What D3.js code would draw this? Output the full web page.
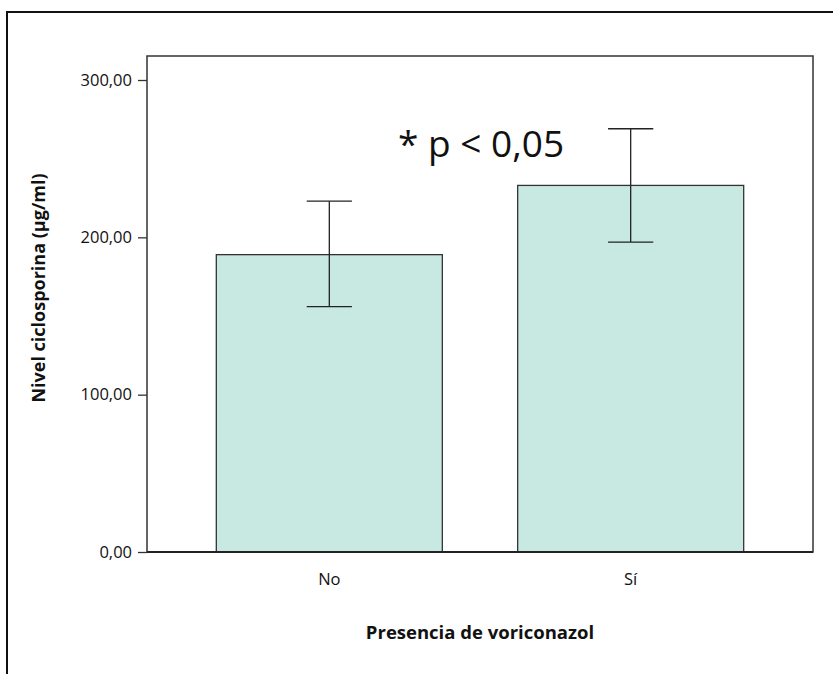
<!DOCTYPE html>
<html>
<head>
<meta charset="utf-8">
<script src="https://cdn.jsdelivr.net/npm/d3@7"></script>
<style>
  body { margin: 0; background: #fff; }
  text { font-family: "Open Sans", "Noto Sans", sans-serif; }
</style>
</head>
<body>
<div id="chart"></div>
<script>
// groups and values
var groups = ["No", "Sí"];
var means = [189, 233];
var errLow = [156, 197];
var errHigh = [223, 269];
var yTicks = [0, 100, 200, 300];

var width = 833, height = 674;
var margin = {top: 56, right: 20, bottom: 122, left: 147};

var svg = d3.select("#chart").append("svg")
    .attr("width", width)
    .attr("height", height);

// outer frame (top and left only)
svg.append("path")
    .attr("d", "M7," + height + " V12 H" + width)
    .attr("fill", "none")
    .attr("stroke", "#111")
    .attr("stroke-width", 2);

var x = d3.scaleBand()
    .domain(groups)
    .range([margin.left, width - margin.right])
    .paddingInner(0.25)
    .paddingOuter(0.23);

var y = d3.scaleLinear()
    .domain([0, 300])
    .range([552, 80]);

// plot frame
svg.append("rect")
    .attr("x", margin.left)
    .attr("y", margin.top)
    .attr("width", width - margin.right - margin.left)
    .attr("height", y(0) - margin.top)
    .attr("fill", "none")
    .attr("stroke", "#333")
    .attr("stroke-width", 1.5);

// bars
svg.append("g")
    .selectAll("rect")
    .data(groups)
    .enter().append("rect")
        .attr("x", function(d) { return x(d); })
        .attr("y", function(d, i) { return y(means[i]); })
        .attr("width", x.bandwidth())
        .attr("height", function(d, i) { return y(0) - y(means[i]); })
        .attr("fill", "#c8e8e2")
        .attr("stroke", "#333")
        .attr("stroke-width", 1.3);

// error bars
var capW = x.bandwidth() * 0.2;
var eb = svg.append("g").attr("stroke", "#222").attr("stroke-width", 1.3);
groups.forEach(function(g, i) {
    var cx = x(g) + x.bandwidth() / 2;
    eb.append("line").attr("x1", cx).attr("x2", cx).attr("y1", y(errLow[i])).attr("y2", y(errHigh[i]));
    eb.append("line").attr("x1", cx - capW / 2).attr("x2", cx + capW / 2).attr("y1", y(errLow[i])).attr("y2", y(errLow[i]));
    eb.append("line").attr("x1", cx - capW / 2).attr("x2", cx + capW / 2).attr("y1", y(errHigh[i])).attr("y2", y(errHigh[i]));
});

// y axis
var yAxis = svg.append("g")
    .attr("transform", "translate(" + margin.left + ",0)")
    .call(d3.axisLeft(y).tickValues(yTicks).tickSize(9).tickPadding(6)
        .tickFormat(function(d) { return d3.format(".2f")(d).replace(".", ","); }));
yAxis.select(".domain").remove();
yAxis.selectAll("line").attr("stroke", "#333").attr("stroke-width", 1.3);
yAxis.selectAll("text").attr("font-size", 16.5).attr("fill", "#111")
    .style("font-family", "'Open Sans', sans-serif");

// bottom axis line
svg.append("line")
    .attr("x1", margin.left).attr("x2", width - margin.right)
    .attr("y1", y(0)).attr("y2", y(0))
    .attr("stroke", "#222").attr("stroke-width", 2);

// x labels
svg.selectAll(".xlab")
    .data(groups)
    .enter().append("text")
        .attr("x", function(d) { return x(d) + x.bandwidth() / 2; })
        .attr("y", 585)
        .attr("text-anchor", "middle")
        .attr("font-size", 16.5)
        .attr("fill", "#111")
        .text(function(d) { return d; });

// axis titles
svg.append("text")
    .attr("x", (margin.left + width - margin.right) / 2)
    .attr("y", 639)
    .attr("text-anchor", "middle")
    .attr("font-size", 18.5)
    .attr("font-weight", "bold")
    .attr("fill", "#111")
    .text("Presencia de voriconazol");

svg.append("text")
    .attr("transform", "translate(45,288) rotate(-90)")
    .attr("text-anchor", "middle")
    .attr("font-size", 18)
    .attr("font-weight", "bold")
    .attr("fill", "#111")
    .text("Nivel ciclosporina (μg/ml)");

// significance note
svg.append("text")
    .attr("x", 398)
    .attr("y", 157)
    .attr("font-size", 37)
    .attr("fill", "#111")
    .text("* p < 0,05");
</script>
</body>
</html>
